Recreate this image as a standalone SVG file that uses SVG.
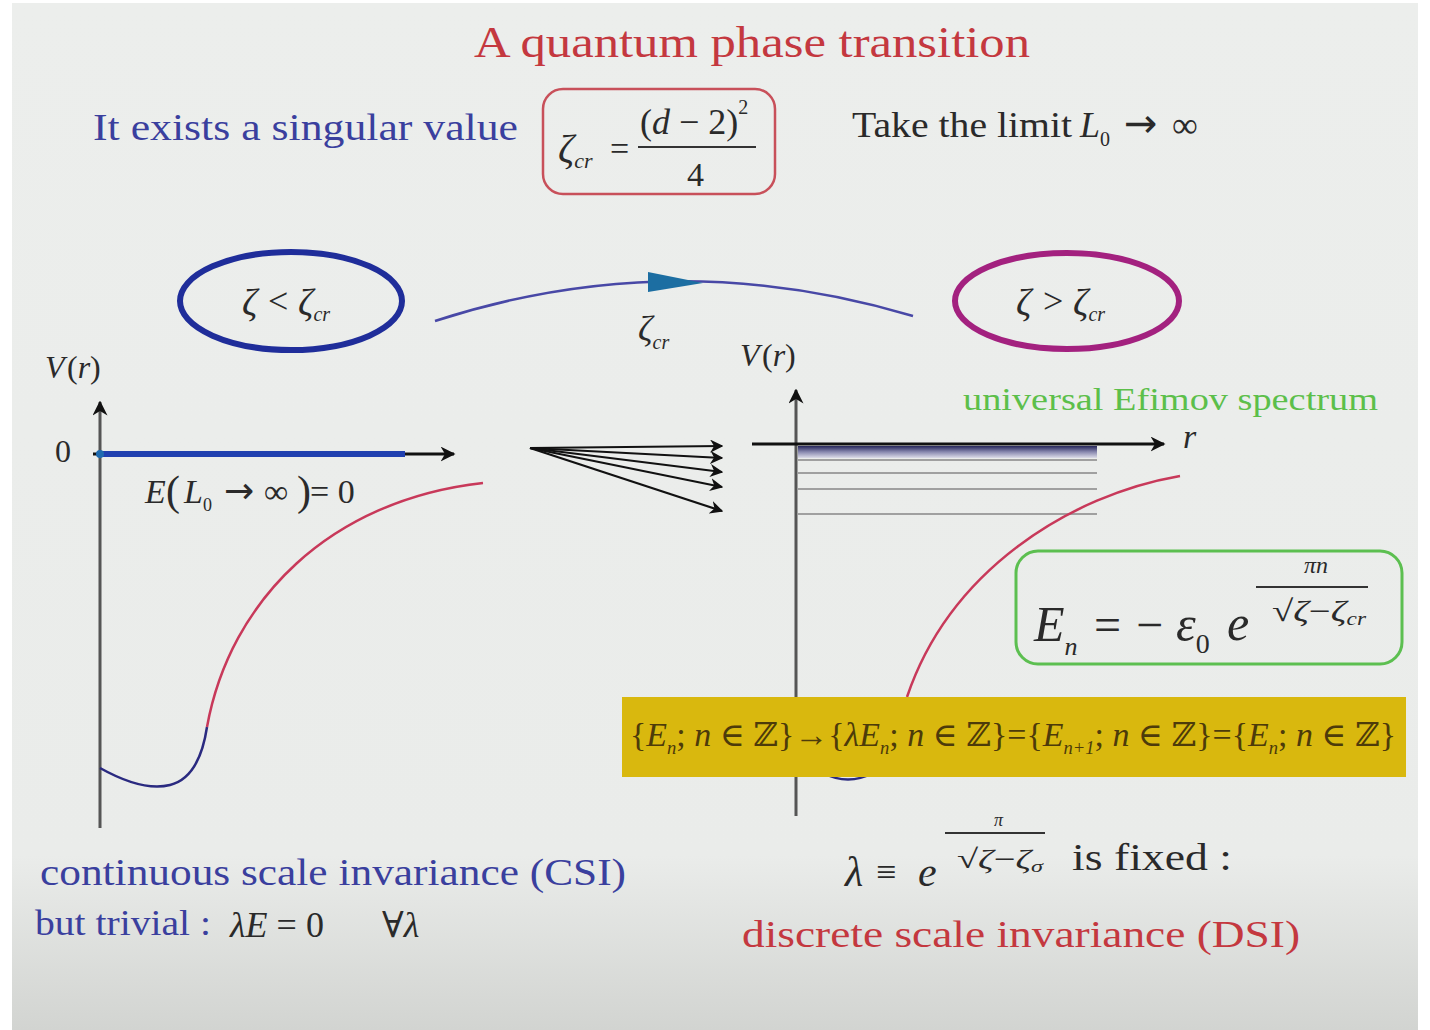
<svg xmlns="http://www.w3.org/2000/svg" width="1430" height="1030" viewBox="0 0 1430 1030">
<defs>
<linearGradient id="bg" x1="0" y1="0" x2="0" y2="1">
<stop offset="0" stop-color="#eceeec"/>
<stop offset="0.83" stop-color="#eaecea"/>
<stop offset="1" stop-color="#d2d4d1"/>
</linearGradient>
<linearGradient id="band" x1="0" y1="0" x2="0" y2="1">
<stop offset="0" stop-color="#26265a"/>
<stop offset="0.5" stop-color="#8a8ab0"/>
<stop offset="1" stop-color="#dcdce8"/>
</linearGradient>
<marker id="ah" viewBox="0 0 10 10" refX="9" refY="5" markerWidth="5" markerHeight="5" orient="auto" markerUnits="strokeWidth">
<path d="M0,0 L10,5 L0,10 L3,5 z" fill="#111"/>
</marker>
<marker id="ah2" viewBox="0 0 10 10" refX="9" refY="5" markerWidth="6" markerHeight="6" orient="auto" markerUnits="strokeWidth">
<path d="M0,0 L10,5 L0,10 L3,5 z" fill="#111"/>
</marker>
</defs>
<style>
text{font-family:"Liberation Serif","DejaVu Serif",serif;}
.it{font-style:italic;}
.red{fill:#c4383f;}
.blue{fill:#3a3f9e;}
.blk{fill:#2a2a2a;}
.arr{font-family:"DejaVu Sans",sans-serif;}
.axis{stroke:#111;stroke-width:3;fill:none;}
.lvl{stroke:#a0a0a0;stroke-width:2;}
.fan{stroke:#111;stroke-width:2.2;fill:none;}
</style>
<rect width="1430" height="1030" fill="#ffffff"/>
<rect x="12" y="3" width="1406" height="1027" fill="url(#bg)"/>

<g id="title"><text x="752" y="57" text-anchor="middle" font-size="45" class="red" textLength="556" lengthAdjust="spacingAndGlyphs">A quantum phase transition</text></g>

<g id="singular"><text x="93" y="140" font-size="38" class="blue" textLength="425" lengthAdjust="spacingAndGlyphs">It exists a singular value</text></g>

<g id="zeta-cr-box">
<rect x="543" y="89" width="232" height="105" rx="20" fill="none" stroke="#c8505a" stroke-width="2.5"/>
<text x="558" y="162" font-size="40" class="it blk">ζ<tspan font-size="22" dy="6">cr</tspan></text>
<text x="610" y="160" font-size="34" class="blk">=</text>
<text x="640" y="134" font-size="36" class="blk">(<tspan class="it">d</tspan> − 2)<tspan font-size="20" dy="-20">2</tspan></text>
<line x1="638" y1="147" x2="756" y2="147" stroke="#333" stroke-width="2"/>
<text x="687" y="186" font-size="34" class="blk">4</text>
</g>

<g id="limit">
<text x="852" y="137" font-size="36" class="blk" textLength="220" lengthAdjust="spacingAndGlyphs">Take the limit</text>
<text x="1080" y="137" font-size="36" class="it blk">L<tspan font-size="20" font-style="normal" dy="9">0</tspan></text>
<text x="1124" y="137" font-size="40" class="blk arr">→</text>
<text x="1172" y="137" font-size="36" class="blk">∞</text>
</g>

<g id="state-lt">
<ellipse cx="291" cy="301" rx="111" ry="49" fill="none" stroke="#1f2d9a" stroke-width="6"/>
<text x="242" y="315" font-size="38" class="it blk">ζ</text>
<text x="268" y="313" font-size="36" class="blk">&lt;</text>
<text x="298" y="315" font-size="38" class="it blk">ζ<tspan font-size="20" dy="6">cr</tspan></text>
</g>

<g id="state-gt">
<ellipse cx="1067" cy="301" rx="112" ry="48" fill="none" stroke="#a3217f" stroke-width="6"/>
<text x="1016" y="315" font-size="38" class="it blk">ζ</text>
<text x="1043" y="313" font-size="36" class="blk">&gt;</text>
<text x="1073" y="315" font-size="38" class="it blk">ζ<tspan font-size="20" dy="6">cr</tspan></text>
</g>

<g id="connectors">
<path d="M435,321 Q672,244 913,316" fill="none" stroke="#4848a6" stroke-width="2.5"/>
<polygon points="648,272 648,292 703,283" fill="#1c6ea2"/>
<line class="fan" x1="530" y1="448" x2="722" y2="446" marker-end="url(#ah2)"/>
<line class="fan" x1="530" y1="448" x2="722" y2="458" marker-end="url(#ah2)"/>
<line class="fan" x1="530" y1="448" x2="722" y2="472" marker-end="url(#ah2)"/>
<line class="fan" x1="530" y1="448" x2="722" y2="487" marker-end="url(#ah2)"/>
<line class="fan" x1="530" y1="448" x2="722" y2="511" marker-end="url(#ah2)"/>
</g>

<g id="zeta-cr-label">
<text x="638" y="341" font-size="36" class="it blk">ζ<tspan font-size="20" dy="8">cr</tspan></text>
</g>

<g id="left-plot">
<text x="45" y="378" font-size="32" class="it blk">V</text>
<text x="67" y="378" font-size="32" class="blk">(<tspan class="it">r</tspan>)</text>
<line x1="100" y1="828" x2="100" y2="402" stroke="#555" stroke-width="3" marker-end="url(#ah)"/>
<line class="axis" x1="93" y1="454" x2="454" y2="454" marker-end="url(#ah)"/>
<line x1="100" y1="454" x2="405" y2="454" stroke="#2040b0" stroke-width="6"/>
<circle cx="100" cy="454" r="4" fill="#1e6ab0"/>
<text x="55" y="462" font-size="32" class="blk">0</text>
<text x="145" y="503" font-size="34" class="it blk">E</text>
<text x="166" y="505" font-size="42" class="blk">(</text>
<text x="184" y="503" font-size="34" class="it blk">L<tspan font-size="18" font-style="normal" dy="8">0</tspan></text>
<text x="224" y="503" font-size="36" class="blk arr">→</text>
<text x="264" y="503" font-size="34" class="blk">∞</text>
<text x="297" y="505" font-size="42" class="blk">)</text>
<text x="310" y="503" font-size="34" class="blk">= 0</text>
<path d="M100,768 C125,782 150,790 170,785 C190,780 202,760 207,727" fill="none" stroke="#2a2a80" stroke-width="2.5"/>
<path d="M207,727 C230,600 330,500 483,483" fill="none" stroke="#c8395a" stroke-width="2.5"/>
</g>

<g id="right-plot">
<text x="740" y="366" font-size="32" class="it blk">V</text>
<text x="762" y="366" font-size="32" class="blk">(<tspan class="it">r</tspan>)</text>
<rect x="798" y="446" width="299" height="12" fill="url(#band)"/>
<line class="lvl" x1="798" y1="460" x2="1097" y2="460"/>
<line class="lvl" x1="798" y1="473" x2="1097" y2="473"/>
<line class="lvl" x1="798" y1="489" x2="1097" y2="489"/>
<line class="lvl" x1="798" y1="514" x2="1097" y2="514"/>
<line x1="796" y1="816" x2="796" y2="390" stroke="#555" stroke-width="3" marker-end="url(#ah)"/>
<line class="axis" x1="752" y1="444" x2="1164" y2="444" marker-end="url(#ah)"/>
<text x="1183" y="448" font-size="34" class="it blk">r</text>
<path d="M1180,476 C1070,495 950,570 907,697" fill="none" stroke="#c8395a" stroke-width="2.5"/>
<path d="M823,773 Q848,786 873,773" fill="none" stroke="#2a2a80" stroke-width="2.5"/>
</g>

<g id="efimov-label"><text x="963" y="410" font-size="32" fill="#5cbf4a" textLength="415" lengthAdjust="spacingAndGlyphs">universal Efimov spectrum</text></g>

<g id="energy-box">
<rect x="1016" y="551" width="386" height="113" rx="22" fill="none" stroke="#5cbf50" stroke-width="3"/>
<text x="1034" y="641" font-size="50" class="it blk">E<tspan font-size="26" dy="14">n</tspan></text>
<text x="1094" y="641" font-size="48" class="blk">=</text>
<text x="1136" y="641" font-size="48" class="blk">−</text>
<text x="1176" y="641" font-size="50" class="it blk">ε<tspan font-size="28" font-style="normal" dy="12">0</tspan></text>
<text x="1227" y="640" font-size="50" class="it blk">e</text>
<line x1="1256" y1="587" x2="1368" y2="587" stroke="#333" stroke-width="2"/>
<text x="1304" y="573" font-size="24" class="it blk">πn</text>
<text x="1272" y="621" font-size="30" class="blk" textLength="94" lengthAdjust="spacingAndGlyphs">√<tspan class="it">ζ</tspan>−<tspan class="it">ζ<tspan font-size="18" dy="4">cr</tspan></tspan></text>
</g>

<g id="dsi-set">
<rect x="622" y="697" width="784" height="80" fill="#d9b80e"/>
<text x="630" y="746" font-size="33" fill="#4d3b0a" textLength="766" lengthAdjust="spacingAndGlyphs">{<tspan class="it">E</tspan><tspan font-size="18" class="it" dy="8">n</tspan><tspan dy="-8">; </tspan><tspan class="it">n</tspan> ∈ ℤ}→{<tspan class="it">λE</tspan><tspan font-size="18" class="it" dy="8">n</tspan><tspan dy="-8">; </tspan><tspan class="it">n</tspan> ∈ ℤ}={<tspan class="it">E</tspan><tspan font-size="18" class="it" dy="8">n+1</tspan><tspan dy="-8">; </tspan><tspan class="it">n</tspan> ∈ ℤ}={<tspan class="it">E</tspan><tspan font-size="18" class="it" dy="8">n</tspan><tspan dy="-8">; </tspan><tspan class="it">n</tspan> ∈ ℤ}</text>
</g>

<g id="lambda">
<text x="845" y="886" font-size="42" class="it blk">λ</text>
<text x="876" y="884" font-size="36" class="blk">≡</text>
<text x="918" y="886" font-size="42" class="it blk">e</text>
<line x1="945" y1="833" x2="1045" y2="833" stroke="#333" stroke-width="2"/>
<text x="994" y="826" font-size="18" class="it blk">π</text>
<text x="957" y="868" font-size="27" class="blk" textLength="86" lengthAdjust="spacingAndGlyphs">√<tspan class="it">ζ</tspan>−<tspan class="it">ζ<tspan font-size="17" dy="4">σ</tspan></tspan></text>
<text x="1072" y="870" font-size="38" class="blk" textLength="160" lengthAdjust="spacingAndGlyphs">is fixed :</text>
</g>

<g id="dsi-label"><text x="742" y="947" font-size="38" class="red" textLength="558" lengthAdjust="spacingAndGlyphs">discrete scale invariance (DSI)</text></g>

<g id="csi-label">
<text x="40" y="885" font-size="38" class="blue" textLength="586" lengthAdjust="spacingAndGlyphs">continuous scale invariance (CSI)</text>
<text x="35" y="935" font-size="36" class="blue" textLength="176" lengthAdjust="spacingAndGlyphs">but trivial :</text>
<text x="230" y="937" font-size="36" class="blk"><tspan class="it">λE</tspan> = 0</text>
<text x="382" y="937" font-size="36" class="blk">∀<tspan class="it">λ</tspan></text>
</g>
</svg>
